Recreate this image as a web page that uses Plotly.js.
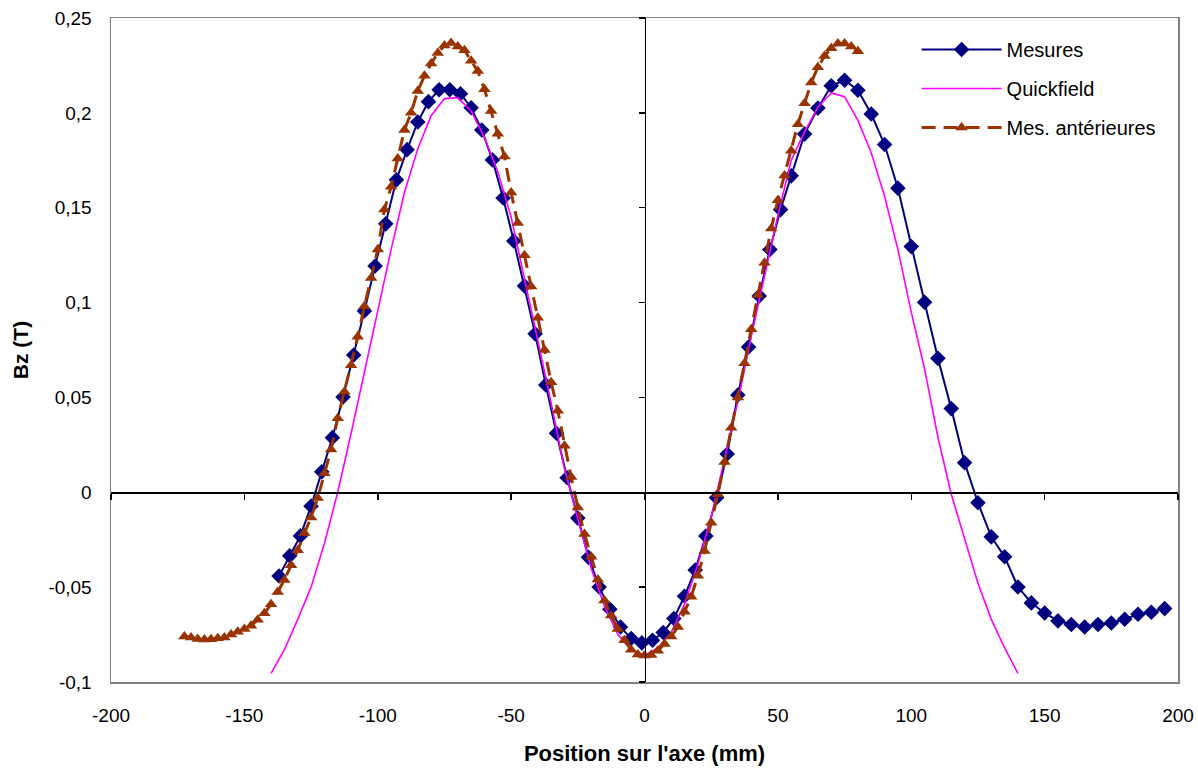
<!DOCTYPE html>
<html>
<head>
<meta charset="utf-8">
<script src="https://cdn.plot.ly/plotly-3.0.1.min.js"></script>
<style>html,body{margin:0;padding:0;background:#fff;}#chart{width:1198px;height:769px;}</style>
</head>
<body>
<div id="chart"></div>
<script>
// ---- Data ----
const mesuresX = [-137,-133,-129,-125,-121,-117,-113,-109,-105,-101,-97,-93,-89,-85,-81,-77,-73,-69,-65,-61,-57,-53,-49,-45,-41,-37,-33,-29,-25,-21,-17,-13,-9,-5,-1,3,7,11,15,19,23,27,31,35,39,43,47,51,55,60,65,70,75,80,85,90,95,100,105,110,115,120,125,130,135,140,145,150,155,160,165,170,175,180,185,190,195];
const mesuresY = [-0.0441,-0.0335,-0.0230,-0.0073,0.0108,0.0288,0.0502,0.0724,0.0956,0.1193,0.1415,0.1647,0.1806,0.1952,0.2059,0.2122,0.2122,0.2101,0.2027,0.1910,0.1752,0.1551,0.1325,0.1088,0.0835,0.0566,0.0311,0.0077,-0.0136,-0.0343,-0.0499,-0.0616,-0.0710,-0.0771,-0.0794,-0.0780,-0.0739,-0.0665,-0.0548,-0.0410,-0.0231,-0.0029,0.0202,0.0513,0.0766,0.1035,0.1280,0.1490,0.1668,0.1888,0.2025,0.2143,0.2172,0.2119,0.1994,0.1833,0.1603,0.1295,0.1002,0.0706,0.0441,0.0156,-0.0055,-0.0235,-0.0340,-0.0499,-0.0583,-0.0636,-0.0678,-0.0697,-0.0710,-0.0697,-0.0689,-0.0669,-0.0643,-0.0632,-0.0613];

const quickX = [-140,-135,-130,-125,-120,-115,-110,-105,-100,-95,-90,-85,-80,-75,-70,-65,-60,-55,-50,-45,-40,-35,-30,-25,-20,-15,-10,-5,0,5,10,15,20,25,30,35,40,45,50,55,60,65,70,75,80,85,90,95,100,105,110,115,120,125,130,135,140];
const quickY = [-0.0955,-0.0830,-0.0670,-0.0500,-0.0270,0.0000,0.0310,0.0630,0.0954,0.1279,0.1580,0.1810,0.1985,0.2075,0.2080,0.2010,0.1870,0.1690,0.1450,0.1130,0.0800,0.0470,0.0125,-0.0140,-0.0400,-0.0600,-0.0750,-0.0830,-0.0860,-0.0820,-0.0740,-0.0590,-0.0380,-0.0130,0.0170,0.0480,0.0820,0.1140,0.1460,0.1750,0.1900,0.2030,0.2105,0.2085,0.1960,0.1790,0.1560,0.1280,0.0950,0.0650,0.0290,-0.0010,-0.0250,-0.0480,-0.0670,-0.0820,-0.0955];

const anterX = [-172.5,-170,-167.5,-165,-162.5,-160,-157.5,-155,-152.5,-150,-147.5,-145,-142.5,-140,-137.5,-135,-132.5,-130,-127.5,-125,-122.5,-120,-117.5,-115,-112.5,-110,-107.5,-105,-102.5,-100,-97.5,-95,-92.5,-90,-87.5,-85,-82.5,-80,-77.5,-75,-72.5,-70,-67.5,-65,-62.5,-60,-57.5,-55,-52.5,-50,-47.5,-45,-42.5,-40,-37.5,-35,-32.5,-30,-27.5,-25,-22.5,-20,-17.5,-15,-12.5,-10,-7.5,-5,-2.5,0,2.5,5,7.5,10,12.5,15,17.5,20,22.5,25,27.5,30,32.5,35,37.5,40,42.5,45,47.5,50,52.5,55,57.5,60,62.5,65,67.5,70,72.5,75,77.5,80];
const anterY = [-0.0760,-0.0766,-0.0774,-0.0776,-0.0775,-0.0770,-0.0765,-0.0750,-0.0735,-0.0720,-0.0703,-0.0672,-0.0638,-0.0590,-0.0525,-0.0462,-0.0385,-0.0306,-0.0215,-0.0133,-0.0030,0.0100,0.0225,0.0390,0.0530,0.0670,0.0820,0.0980,0.1130,0.1280,0.1490,0.1610,0.1760,0.1910,0.2000,0.2115,0.2195,0.2260,0.2315,0.2355,0.2368,0.2350,0.2330,0.2275,0.2220,0.2125,0.2010,0.1890,0.1770,0.1580,0.1420,0.1250,0.1085,0.0920,0.0750,0.0580,0.0430,0.0245,0.0080,-0.0080,-0.0220,-0.0340,-0.0460,-0.0570,-0.0650,-0.0720,-0.0780,-0.0830,-0.0855,-0.0860,-0.0858,-0.0835,-0.0800,-0.0760,-0.0710,-0.0630,-0.0550,-0.0440,-0.0310,-0.0160,-0.0010,0.0160,0.0340,0.0500,0.0680,0.0860,0.1040,0.1210,0.1390,0.1540,0.1670,0.1800,0.1940,0.2050,0.2160,0.2240,0.2300,0.2340,0.2365,0.2365,0.2350,0.2325];

const xTickVals = [-200,-150,-100,-50,0,50,100,150,200];
const xTickText = ['-200','-150','-100','-50','0','50','100','150','200'];
const yTickVals = [-0.1,-0.05,0,0.05,0.1,0.15,0.2,0.25];
const yTickText = ['-0,1','-0,05','0','0,05','0,1','0,15','0,2','0,25'];

const FONT = 'Liberation Sans, Arial, sans-serif';

const traces = [
  {x: mesuresX, y: mesuresY, name: 'Mesures', mode: 'lines+markers', type: 'scatter',
   line: {color: '#000080', width: 2}, marker: {symbol: 'diamond', size: 12, color: '#000080'},
   legendgroup: 'a'},
  {x: quickX, y: quickY, name: 'Quickfield', mode: 'lines', type: 'scatter',
   line: {color: '#FF00FF', width: 1.6}, legendgroup: 'b'},
  {x: anterX, y: anterY, name: 'Mes. antérieures', mode: 'lines+markers', type: 'scatter',
   line: {color: '#993300', width: 3, dash: '14px,8px'}, marker: {symbol: 'triangle-up', size: 11, color: '#993300'},
   legendgroup: 'c'},
  {x: [], y: [], xaxis: 'x2', yaxis: 'y2', showlegend: false, hoverinfo: 'skip', type: 'scatter', mode: 'lines'}
];

const layout = {
  width: 1198, height: 769,
  margin: {l: 111, r: 20, t: 18, b: 87, pad: 0},
  paper_bgcolor: '#fff', plot_bgcolor: '#fff',
  font: {family: FONT, size: 19, color: '#000'},
  showlegend: true,
  legend: {x: 0.755, y: 0.982, xanchor: 'left', yanchor: 'top', font: {family: FONT, size: 20, color: '#000'},
           itemwidth: 80, traceorder: 'grouped', tracegroupgap: 10, bgcolor: 'rgba(0,0,0,0)'},
  xaxis: {range: [-200, 200], tickvals: xTickVals, ticktext: xTickText, ticks: '', showgrid: false, zeroline: false,
          showline: true, mirror: true, linecolor: '#808080', linewidth: 1.5, ticklabelstandoff: 16,
          tickfont: {family: FONT, size: 19, color: '#000'},
          title: {text: "Position sur l'axe (mm)", font: {family: FONT, size: 22, color: '#000', weight: 'bold'}, standoff: 20}},
  yaxis: {range: [-0.1, 0.25], tickvals: yTickVals, ticktext: yTickText, ticks: '', showgrid: false, zeroline: false,
          showline: true, mirror: true, linecolor: '#808080', linewidth: 1.5, ticklabelstandoff: 14,
          tickfont: {family: FONT, size: 19, color: '#000'},
          title: {text: 'Bz (T)', font: {family: FONT, size: 21, color: '#000', weight: 'bold'}, standoff: 14}},
  xaxis2: {range: [-200, 200], overlaying: 'x', anchor: 'free', position: 0.1/0.35, side: 'bottom',
           tickvals: xTickVals, ticks: 'outside', ticklen: 6, tickwidth: 1.5, tickcolor: '#000',
           showticklabels: false, showgrid: false, zeroline: false, showline: true, linecolor: '#000', linewidth: 1.5},
  yaxis2: {range: [-0.1, 0.25], overlaying: 'y', anchor: 'free', position: 0.5, side: 'left',
           tickvals: yTickVals, ticks: 'outside', ticklen: 6, tickwidth: 1.5, tickcolor: '#000',
           showticklabels: false, showgrid: false, zeroline: false, showline: true, linecolor: '#000', linewidth: 1.5}
};

Plotly.newPlot('chart', traces, layout, {displayModeBar: false, staticPlot: true});
</script>
</body>
</html>
